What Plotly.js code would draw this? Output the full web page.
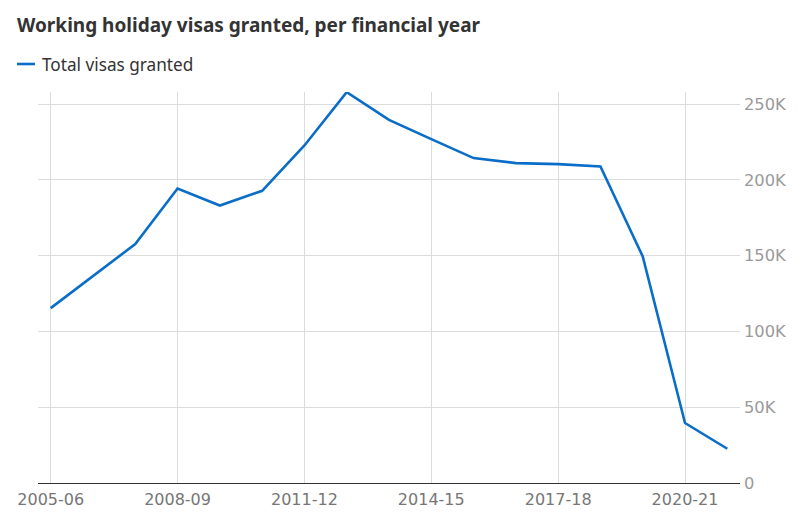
<!DOCTYPE html>
<html>
<head>
<meta charset="utf-8">
<script src="https://cdn.plot.ly/plotly-3.0.1.min.js"></script>
<style>html,body{margin:0;padding:0;background:#fff;}#chart{width:797px;height:522px;}</style>
</head>
<body>
<div id="chart"></div>
<script>
const years = ["2005-06","2006-07","2007-08","2008-09","2009-10","2010-11","2011-12","2012-13","2013-14","2014-15","2015-16","2016-17","2017-18","2018-19","2019-20","2020-21","2021-22"];
const visas = [115400,136500,157700,194300,183100,192800,222700,257900,239600,226900,214400,211100,210400,208800,149500,39600,22600];
const tickYears = ["2005-06","2008-09","2011-12","2014-15","2017-18","2020-21"];
const yTicks = [0,50000,100000,150000,200000,250000];
const yTickLabels = ["0","50K","100K","150K","200K","250K"];
const seriesName = "Total visas granted";
const lineColor = "#0a6dc8";

const trace = {
  x: years, y: visas, type: "scatter", mode: "lines", name: seriesName,
  line: {color: lineColor, width: 2.6}, showlegend: false, hoverinfo: "x+y"
};

const layout = {
  width: 797, height: 522,
  margin: {l: 38, r: 57, t: 92, b: 39},
  paper_bgcolor: "#fff", plot_bgcolor: "#fff",
  font: {family: "DejaVu Sans, sans-serif", color: "#767676", size: 16},
  title: {
    text: "<b>Working holiday visas granted, per financial year</b>",
    x: 17/797, xanchor: "left", xref: "container",
    y: 1 - 25/522, yanchor: "middle", yref: "container",
    font: {family: "Noto Sans, sans-serif", size: 19, color: "#333333"}
  },
  xaxis: {
    type: "category", range: [-0.3, 16.3],
    tickmode: "array", tickvals: tickYears, ticktext: tickYears,
    showgrid: true, gridcolor: "#dcdcdc", gridwidth: 1,
    showline: true, linecolor: "#333333", linewidth: 1.3,
    ticks: "", ticklabelstandoff: 2,
    tickfont: {size: 16, color: "#767676"}, zeroline: false, fixedrange: true
  },
  yaxis: {
    side: "right", range: [0, 258000],
    tickmode: "array", tickvals: yTicks, ticktext: yTickLabels,
    showgrid: true, gridcolor: "#dcdcdc", gridwidth: 1,
    zeroline: false, showline: false, ticks: "", ticklabelstandoff: 3,
    tickfont: {size: 16.3, color: "#9a9a9a"}, fixedrange: true
  },
  shapes: [{
    type: "line", xref: "paper", yref: "paper",
    x0: (17-38)/702, x1: (35-38)/702,
    y0: 1 + (92-64)/391, y1: 1 + (92-64)/391,
    line: {color: lineColor, width: 2.6}
  }],
  annotations: [{
    text: seriesName, xref: "paper", yref: "paper",
    x: (40-38)/702, xanchor: "left",
    y: 1 + (92-64)/391, yanchor: "middle",
    showarrow: false, font: {family: "Noto Sans, sans-serif", size: 17.2, color: "#333333"}
  }]
};

Plotly.newPlot("chart", [trace], layout, {displayModeBar: false, staticPlot: false});
</script>
</body>
</html>
